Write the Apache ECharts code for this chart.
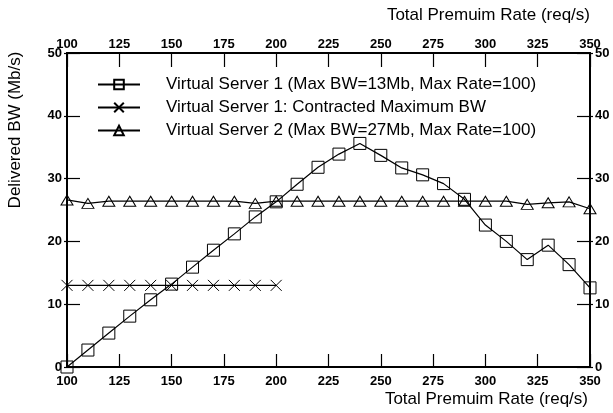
<!DOCTYPE html>
<html><head><meta charset="utf-8">
<script src="https://cdn.jsdelivr.net/npm/echarts@6/dist/echarts.min.js"></script>
<style>html,body{margin:0;padding:0;background:#fff}#c{width:613px;height:413px}</style>
</head><body><div id="c"></div>
<script>
const xRates = [100,110,120,130,140,150,160,170,180,190,200,210,220,230,240,250,260,270,280,290,300,310,320,330,340,350];
const vs1 = [0,2.7,5.4,8.1,10.7,13.2,15.9,18.6,21.2,23.9,26.3,29.1,31.8,33.9,35.6,33.7,31.7,30.6,29.2,26.7,22.6,20.0,17.1,19.4,16.3,12.6];
const contractX = [100,110,120,130,140,150,160,170,180,190,200];
const contractBW = [13,13,13,13,13,13,13,13,13,13,13];
const vs2 = [26.6,26.05,26.4,26.4,26.4,26.4,26.4,26.4,26.4,26.05,26.4,26.4,26.4,26.4,26.4,26.4,26.4,26.4,26.4,26.4,26.4,26.4,25.9,26.15,26.3,25.2];
const names = ['Virtual Server 1 (Max BW=13Mb, Max Rate=100)','Virtual Server 1: Contracted Maximum BW','Virtual Server 2 (Max BW=27Mb, Max Rate=100)'];
const xTitle = 'Total Premuim Rate (req/s)';
const yTitle = 'Delivered BW (Mb/s)';

const pairs = (xs, ys) => xs.map((x,i)=>[x, ys[i]]);
const FONT = 'Liberation Sans, Arial, sans-serif';
const chart = echarts.init(document.getElementById('c'), null, {renderer:'canvas'});
const lbl = {fontFamily:FONT, fontWeight:'bold', fontSize:13, color:'#000'};
const axLine = {lineStyle:{color:'#000', width:2}};
function xa(pos, showLabel, tickLen, inside, margin){
  return {type:'value', position:pos, min:100, max:350, interval:25,
    axisLine:{show:true, onZero:false, ...axLine},
    axisTick:{show:tickLen>0, inside:inside, length:tickLen, lineStyle:{color:'#000', width:1.2}},
    axisLabel:{show:showLabel, margin:margin, ...lbl},
    splitLine:{show:false}};
}
function ya(pos, showLabel, tickLen, inside, margin){
  return {type:'value', position:pos, min:0, max:50, interval:10,
    axisLine:{show:true, onZero:false, ...axLine},
    axisTick:{show:tickLen>0, inside:inside, length:tickLen, lineStyle:{color:'#000', width:1.2}},
    axisLabel:{show:showLabel, margin:margin, ...lbl},
    splitLine:{show:false}};
}
const sym = {color:'rgba(0,0,0,0)', borderColor:'#000', borderWidth:1};
chart.setOption({
  animation:false,
  backgroundColor:'#fff',
  grid:{left:67, right:23, top:53, bottom:46, containLabel:false},
  xAxis:[xa('bottom', true, 13, true, 8), xa('top', true, 14, true, 2)],
  yAxis:[ya('left', true, 13, true, 5), ya('right', true, 13, true, 5),
         ya('left', false, 3, false, 5), ya('right', false, 3, false, 5)],
  legend:{left:97, top:76, padding:0, orient:'vertical', itemGap:6, itemWidth:42, itemHeight:12,
    textStyle:{fontFamily:FONT, fontSize:17, color:'#000', padding:[0,0,0,21]},
    data:names},
  graphic:[
    {type:'text', right:23, top:7, style:{text:xTitle, font:'17px '+FONT, fill:'#000'}},
    {type:'text', right:25, top:391, style:{text:xTitle, font:'17px '+FONT, fill:'#000'}},
    {type:'text', x:7, y:130, rotation:Math.PI/2, style:{text:yTitle, font:'17px '+FONT, fill:'#000', align:'center', verticalAlign:'top'}}
  ],
  series:[
    {name:names[0], type:'line', data:pairs(xRates, vs1), symbol:'rect', symbolSize:12, showAllSymbol:true,
      lineStyle:{color:'#000', width:1.2}, itemStyle:sym, color:'#000'},
    {name:names[1], type:'line', data:pairs(contractX, contractBW), symbol:'path://M0,0L10,10M10,0L0,10', symbolSize:11, showAllSymbol:true,
      lineStyle:{color:'#000', width:1.2}, itemStyle:sym, color:'#000'},
    {name:names[2], type:'line', data:pairs(xRates, vs2), symbol:'triangle', symbolSize:[12,10], showAllSymbol:true,
      lineStyle:{color:'#000', width:1.2}, itemStyle:sym, color:'#000'}
  ]
});
</script></body></html>
